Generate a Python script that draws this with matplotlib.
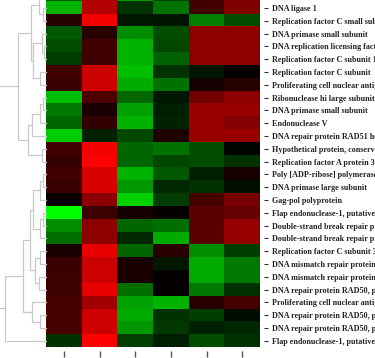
import numpy as np
import matplotlib
matplotlib.use("Agg")
import matplotlib.pyplot as plt
from matplotlib.colors import LinearSegmentedColormap

# row labels, top to bottom (first row is mostly cut off in the picture)
row_labels = [
    "DNA polymerase",
    "DNA ligase 1",
    "Replication factor C small subunit",
    "DNA primase small subunit",
    "DNA replication licensing factor",
    "Replication factor C subunit 1",
    "Replication factor C subunit",
    "Proliferating cell nuclear antigen",
    "Ribonuclease hi large subunit",
    "DNA primase small subunit",
    "Endonuclease V",
    "DNA repair protein RAD51 homolog",
    "Hypothetical protein, conserved",
    "Replication factor A protein 3",
    "Poly [ADP-ribose] polymerase",
    "DNA primase large subunit",
    "Gag-pol polyprotein",
    "Flap endonuclease-1, putative",
    "Double-strand break repair protein",
    "Double-strand break repair protein",
    "Replication factor C subunit 3",
    "DNA mismatch repair protein",
    "DNA mismatch repair protein",
    "DNA repair protein RAD50, putative",
    "Proliferating cell nuclear antigen",
    "DNA repair protein RAD50, putative",
    "DNA repair protein RAD50, putative",
    "Flap endonuclease-1, putative",
]

# expression values, 6 samples per row (green < 0 < red)
values = [
    [-0.35, 0.65, -0.60, -0.25, 0.30, 0.50],
    [-0.70, 0.70, -0.20, -0.45, 0.25, 0.50],
    [0.15, 0.95, -0.10, -0.08, -0.50, -0.30],
    [-0.35, 0.15, -0.55, -0.30, 0.55, 0.55],
    [-0.30, 0.25, -0.70, -0.28, 0.55, 0.55],
    [-0.23, 0.25, -0.70, -0.38, 0.55, 0.55],
    [0.25, 0.80, -0.75, -0.20, -0.08, 0.03],
    [0.22, 0.80, -0.67, -0.45, 0.08, 0.15],
    [-0.75, 0.30, -0.40, -0.10, 0.45, 0.55],
    [-0.47, 0.10, -0.63, -0.12, 0.60, 0.60],
    [-0.40, 0.20, -0.70, -0.14, 0.60, 0.52],
    [-0.80, -0.14, -0.28, 0.12, 0.60, 0.60],
    [0.25, 0.95, -0.40, -0.45, -0.30, -0.02],
    [0.20, 1.00, -0.40, -0.28, -0.30, -0.20],
    [0.25, 0.85, -0.70, -0.35, -0.12, 0.10],
    [0.22, 0.85, -0.60, -0.16, -0.20, -0.06],
    [0.04, 0.55, -0.82, -0.24, 0.28, 0.47],
    [-1.00, 0.24, 0.08, 0.02, 0.35, 0.40],
    [-0.55, 0.55, -0.40, -0.43, 0.35, 0.59],
    [-0.43, 0.55, -0.16, -0.67, 0.35, 0.59],
    [0.10, 0.90, -0.40, 0.16, -0.55, -0.24],
    [0.22, 0.80, 0.10, -0.10, -0.67, -0.47],
    [0.24, 0.80, 0.10, 0.02, -0.67, -0.47],
    [0.24, 0.90, -0.43, 0.02, -0.47, -0.20],
    [0.27, 0.63, -0.63, -0.70, 0.16, 0.27],
    [0.27, 0.80, -0.67, -0.20, -0.24, -0.04],
    [0.27, 0.80, -0.59, -0.22, -0.14, -0.15],
    [-0.20, 1.00, -0.25, -0.12, -0.30, -0.18],
]

# row dendrogram merges (child a, child b, height); ids >= 28 are earlier merges
merges = [
    (1, 2, 3), (0, 28, 7), (4, 5, 2), (3, 30, 4), (6, 7, 6), (31, 32, 13),
    (29, 33, 15), (8, 9, 3), (35, 10, 6), (36, 11, 14), (12, 13, 4),
    (37, 38, 18), (34, 39, 28), (14, 15, 3), (41, 16, 6), (17, 18, 3),
    (43, 19, 6), (42, 44, 13), (20, 21, 6), (22, 23, 7), (46, 47, 11),
    (45, 48, 16), (25, 26, 6), (24, 50, 14), (49, 51, 23), (52, 27, 41),
    (40, 53, 49),
]

data = np.array(values)
n_rows, n_cols = data.shape
cmap = LinearSegmentedColormap.from_list("gkr", [(0, 1, 0), (0, 0, 0), (1, 0, 0)])

W, H = 375, 358
fig = plt.figure(figsize=(W / 100, H / 100), dpi=100)

row_h = 12.8
cell_w = (260 - 46) / n_cols
top_px = 347.2 - n_rows * row_h
bot_px = 351
ax_bottom = (H - bot_px) / H
ax_height = (bot_px - top_px) / H

ax = fig.add_axes([46 / W, ax_bottom, (264 - 46) / W, ax_height])
ax.imshow(data, cmap=cmap, vmin=-1, vmax=1, aspect="auto", interpolation="nearest")
ax.set_xlim(-0.5, n_cols - 0.5 + 4 / cell_w)
ax.set_ylim(n_rows - 0.5 + 3.8 / row_h, -0.5)
for s in ax.spines.values():
    s.set_visible(False)
ax.yaxis.tick_right()
ax.set_yticks(range(n_rows))
ax.set_yticklabels(row_labels, fontsize=5.9, fontweight="bold",
                   family=["Liberation Serif", "DejaVu Serif"], color="#222222")
ax.set_xticks(range(n_cols))
ax.set_xticklabels([])
ax.tick_params(axis="y", length=3, width=0.8, pad=3, color="#333333")
ax.tick_params(axis="x", length=4, width=1.0, color="#555555")

# dendrogram
dax = fig.add_axes([0, ax_bottom, 46 / W, ax_height])
pos = {i: (0.0, float(i)) for i in range(n_rows)}
for k, (a, b, h) in enumerate(merges):
    ha, ya = pos[a]
    hb, yb = pos[b]
    dax.plot([ha, h, h, hb], [ya, ya, yb, yb], color="#c8c8c8", lw=0.9,
             clip_on=False, solid_joinstyle="miter")
    pos[n_rows + k] = (h, (ya + yb) / 2)
dax.set_xlim(46, 0)
dax.set_ylim(n_rows - 0.5 + 3.8 / row_h, -0.5)
dax.axis("off")

fig.savefig("out.png", dpi=100)
